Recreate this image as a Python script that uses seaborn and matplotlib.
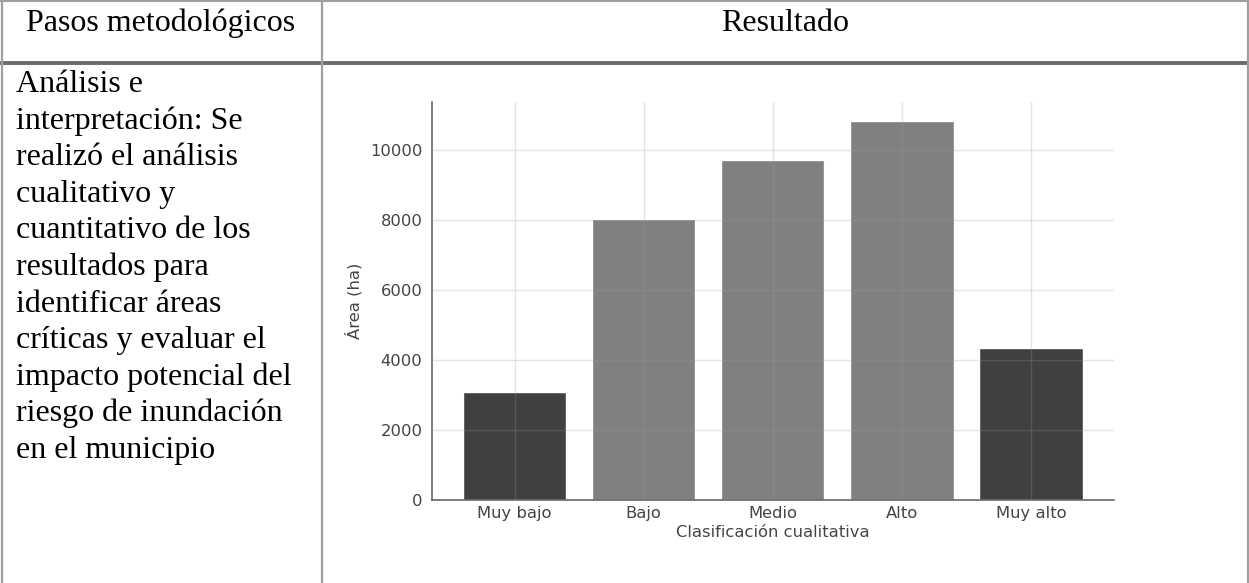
import matplotlib
matplotlib.use("Agg")
import matplotlib.pyplot as plt
from matplotlib.lines import Line2D
import seaborn as sns
import pandas as pd

# ---- data ----
categories = ["Muy bajo", "Bajo", "Medio", "Alto", "Muy alto"]
area_ha = [3090, 8030, 9710, 10830, 4350]
bar_colors = ["#404040", "#808080", "#808080", "#808080", "#404040"]

header_left = "Pasos metodológicos"
header_right = "Resultado"
body_lines = [
    "Análisis e",
    "interpretación: Se",
    "realizó el análisis",
    "cualitativo y",
    "cuantitativo de los",
    "resultados para",
    "identificar áreas",
    "críticas y evaluar el",
    "impacto potencial del",
    "riesgo de inundación",
    "en el municipio",
]
x_label = "Clasificación cualitativa"
y_label = "Área (ha)"

W, H = 1249, 583
sns.set_theme(style="white")
plt.rcParams["font.family"] = ["DejaVu Sans"]

fig = plt.figure(figsize=(W / 100, H / 100), dpi=100)
fig.patch.set_facecolor("white")


def fx(px):
    return px / W


def fy(py):
    return 1 - py / H


# ---- table borders ----
def hline(y, x0, x1, color, lw):
    fig.add_artist(Line2D([fx(x0), fx(x1)], [fy(y), fy(y)], color=color,
                          lw=lw, transform=fig.transFigure, solid_capstyle="butt"))


def vline(x, y0, y1, color, lw):
    fig.add_artist(Line2D([fx(x), fx(x)], [fy(y0), fy(y1)], color=color,
                          lw=lw, transform=fig.transFigure, solid_capstyle="butt"))


hline(1.0, 0, W, "#a0a0a0", 1.5)
hline(62.5, 0, W, "#6b6b6b", 2.8)
vline(1.5, 0, H, "#a0a0a0", 1.6)
vline(321.5, 0, H, "#a0a0a0", 1.6)
vline(1247.8, 0, H, "#a0a0a0", 1.6)

serif = ["Liberation Serif", "DejaVu Serif"]
fs_table = 23
fig.text(fx(161), fy(31), header_left, ha="center", va="baseline",
         fontsize=fs_table, family=serif, color="black")
fig.text(fx(785), fy(31), header_right, ha="center", va="baseline",
         fontsize=fs_table, family=serif, color="black")
for i, line in enumerate(body_lines):
    fig.text(fx(16), fy(92 + 36.6 * i), line, ha="left", va="baseline",
             fontsize=fs_table, family=serif, color="black")

# ---- chart ----
left, right, bottom, top = 432, 1113.6, 500, 102
ax = fig.add_axes([fx(left), 1 - bottom / H, (right - left) / W, (bottom - top) / H])

df = pd.DataFrame({"cat": categories, "area": area_ha})
sns.barplot(data=df, x="cat", y="area", hue="cat", palette=bar_colors,
            legend=False, width=0.8, saturation=1, ax=ax, zorder=1)
ax.set_xlim(-0.64, len(categories) - 1 + 0.64)
ax.set_ylim(0, max(area_ha) * 1.05)
ax.set_yticks([0, 2000, 4000, 6000, 8000, 10000])

ax.grid(True, color="#999999", alpha=0.25, lw=1.0, zorder=1.5)
ax.set_axisbelow(False)
for s in ["top", "right"]:
    ax.spines[s].set_visible(False)
for s in ["left", "bottom"]:
    ax.spines[s].set_color("#666666")
    ax.spines[s].set_linewidth(1.2)

fs_chart = 11.8
ax.tick_params(axis="both", labelsize=fs_chart, colors="#444444",
               length=3.5, width=1, direction="out")
ax.tick_params(axis="x", length=0, pad=4.5)
ax.set_xlabel(x_label, fontsize=fs_chart, color="#444444", labelpad=3)
ax.set_ylabel(y_label, fontsize=fs_chart, color="#444444", labelpad=5)

fig.savefig("out.png", dpi=100, facecolor="white")
